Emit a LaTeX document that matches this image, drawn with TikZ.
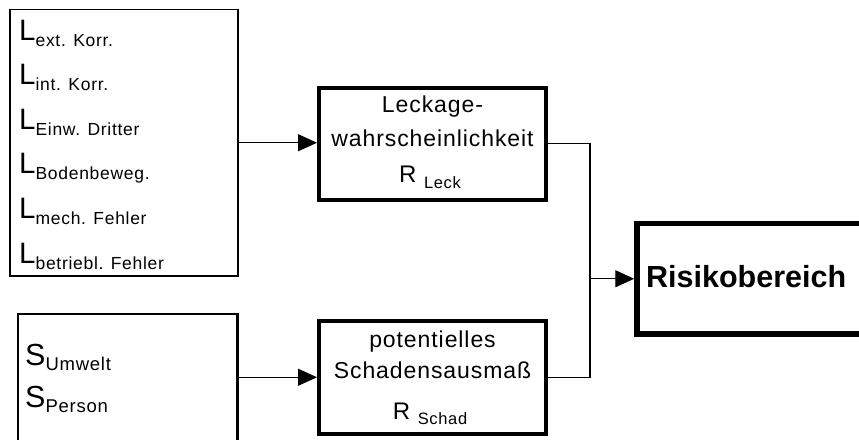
\documentclass[tikz,border=0pt]{standalone}
\usepackage{fontspec}
\setmainfont{Liberation Sans}
\newfontfamily\widefont[LetterSpace=4]{Liberation Sans}
\usetikzlibrary{arrows.meta}
\newcommand\fsz[1]{\fontsize{#1pt}{#1pt}\selectfont}
\tikzset{
  box/.style={draw, rectangle, inner sep=0pt},
  lbox/.style={box, line width=1.2pt},
  sbox/.style={box, line width=2.2pt},
  rbox/.style={box, line width=4pt},
  riskbox/.style={box, line width=5.5pt},
  txt/.style={inner sep=0pt, anchor=base},
  wtxt/.style={txt, anchor=base west},
  conn/.style={line width=1.2pt},
  arr/.style={conn, -{Triangle[length=19pt,width=17pt]}}
}
\begin{document}
\begin{tikzpicture}[x=1pt,y=-1pt]
\useasboundingbox (0,0) rectangle (859,439);
\fill[white] (0,0) rectangle (859,439);
\clip (0,0) rectangle (859,439);

% boxes
\node[lbox, minimum width=228pt, minimum height=266.5pt] (Lbox) at (124,142.75) {};
\node[sbox, minimum width=219.5pt, minimum height=146pt] (Sbox) at (127.75,387) {};
\node[rbox, minimum width=226.5pt, minimum height=112.5pt] (Leck) at (432.25,143.75) {};
\node[rbox, minimum width=226.5pt, minimum height=113.5pt] (Schad) at (432.25,377.25) {};
\node[riskbox, minimum width=225pt, minimum height=110.5pt] (Risk) at (749.5,278.75) {};

% L entries
\node[wtxt] (l1) at (19,40)    {\fsz{29.5}L\raisebox{-6pt}{\widefont\fsz{17.5}ext. Korr.}};
\node[wtxt] (l2) at (19,84.6)  {\fsz{29.5}L\raisebox{-6pt}{\widefont\fsz{17.5}int. Korr.}};
\node[wtxt] (l3) at (19,129.2) {\fsz{29.5}L\raisebox{-6pt}{\widefont\fsz{17.5}Einw. Dritter}};
\node[wtxt] (l4) at (19,173.8) {\fsz{29.5}L\raisebox{-6pt}{\widefont\fsz{17.5}Bodenbeweg.}};
\node[wtxt] (l5) at (19,218.4) {\fsz{29.5}L\raisebox{-6pt}{\widefont\fsz{17.5}mech. Fehler}};
\node[wtxt] (l6) at (19,263)   {\fsz{29.5}L\raisebox{-6pt}{\widefont\fsz{17.5}betriebl. Fehler}};

% S entries
\node[wtxt] (s1) at (25,365) {\fsz{30.5}S\raisebox{-5pt}{\widefont\fsz{18.5}Umwelt}};
\node[wtxt] (s2) at (25,407) {\fsz{30.5}S\raisebox{-5pt}{\widefont\fsz{18.5}Person}};

% Leck text
\node[txt] (k1) at (432.5,112) {\widefont\fsz{23}Leckage-};
\node[txt] (k2) at (432.5,146) {\widefont\fsz{23}wahrscheinlichkeit};
\node[txt] (k3) at (430,182)   {\widefont\fsz{24}R\ \raisebox{-6pt}{\fsz{16.5}Leck}};

% Schad text
\node[txt] (d1) at (432.5,347) {\widefont\fsz{23}potentielles};
\node[txt] (d2) at (432.5,378) {\widefont\fsz{23}Schadensausmaß};
\node[txt] (d3) at (430,419)   {\widefont\fsz{24}R\ \raisebox{-5pt}{\fsz{16.5}Schad}};

% Risk text
\node[wtxt] (rt) at (646,287) {\bfseries\fsz{30.5}Risikobereich};

% connectors
\coordinate (j) at (590,278.75);
\draw[arr] (Lbox.east) -- (Lbox.east -| Leck.west);
\draw[arr] (Sbox.east |- Schad.west) -- (Schad.west);
\draw[conn] (Leck.east) -| (j) |- (Schad.east);
\draw[arr] (j) -- (Risk.west);
\end{tikzpicture}
\end{document}
